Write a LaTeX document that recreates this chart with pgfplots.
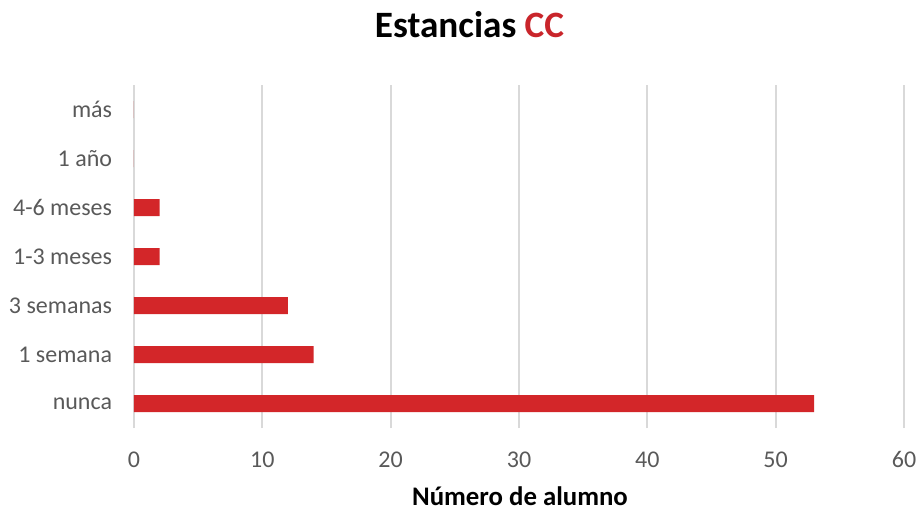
\documentclass[border=0pt]{standalone}
\usepackage{pgfplots}
\pgfplotsset{compat=1.18}
\usepackage{fontspec}
\setmainfont{Carlito}

\definecolor{barred}{HTML}{D32629}
\definecolor{titlered}{HTML}{C9252B}
\definecolor{txtgrey}{HTML}{595959}
\definecolor{gridgrey}{HTML}{D9D9D9}

\begin{document}
\begin{tikzpicture}
  \path[use as bounding box] (0,0) rectangle (458.5pt,255.5pt);

  \begin{axis}[
      at={(67pt,41.5pt)}, anchor=south west,
      scale only axis,
      width=385pt, height=171.5pt,
      xbar, bar width=8.5pt, bar shift=0pt,
      xmin=0, xmax=60,
      ymin=-0.5, ymax=6.5,
      xtick={0,10,...,60},
      ytick={0,...,6},
      yticklabels={nunca, 1 semana, 3 semanas, 1-3 meses, 4-6 meses, 1 año, más},
      xmajorgrids,
      major grid style={gridgrey, line width=1pt},
      axis line style={draw=none},
      tick style={draw=none},
      tick label style={font=\fontsize{12}{14}\selectfont, text=txtgrey, inner sep=0pt},
      xticklabel style={anchor=base, yshift=-19.5pt},
      yticklabel style={anchor=east, xshift=-6.5pt},
      /pgf/number format/assume math mode=true,
    ]
    % number of students per stay length
    \addplot[fill=barred, draw=none] coordinates {
      (53,0) (14,1) (12,2) (2,3) (2,4) (0,5) (0,6)
    };
  \end{axis}

  \node[anchor=base, font=\fontsize{18.6}{22}\selectfont\bfseries] at (234.75pt,237pt)
    {Estancias \textcolor{titlered}{CC}};
  \node[anchor=base, font=\fontsize{13.4}{16}\selectfont\bfseries] at (260pt,3pt)
    {Número de alumno};
\end{tikzpicture}
\end{document}
